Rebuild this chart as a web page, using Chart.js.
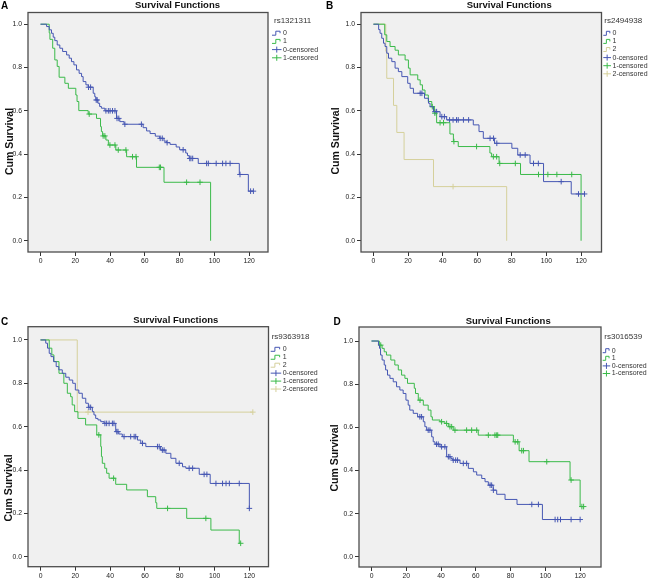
<!DOCTYPE html>
<html>
<head>
<meta charset="utf-8">
<title>Survival Functions</title>
<script src="https://cdn.jsdelivr.net/npm/chart.js@4.4.1/dist/chart.umd.min.js"></script>
<style>
  html, body { margin: 0; padding: 0; background: #fff; }
  #wrap { position: relative; width: 650px; height: 581px; overflow: hidden; }
  #wrap canvas { position: absolute; }
</style>
</head>
<body>
<div id="wrap">
  <canvas id="chartA" width="325" height="290" style="left:0;top:0"></canvas>
  <canvas id="chartB" width="325" height="290" style="left:325px;top:0"></canvas>
  <canvas id="chartC" width="325" height="291" style="left:0;top:290px"></canvas>
  <canvas id="chartD" width="325" height="291" style="left:325px;top:290px"></canvas>
</div>
<script>
// Tick labels shared by all four panels
const xTicks = [0, 20, 40, 60, 80, 100, 120];
const yTicks = [0.0, 0.2, 0.4, 0.6, 0.8, 1.0];

// Kaplan-Meier steps: survival drops to surv[i] at time[i]
// Panel A - rs1321311
const aTime0 = [0, 3.5, 5, 6.3, 7.3, 8.2, 9.6, 11.1, 12.7, 15, 16.5, 17.8, 19.2, 20.7, 22.2, 23.6, 24.5, 26.1, 27.4, 30.3, 31.2, 31.8, 33, 34, 35, 37, 43.7, 45.6, 48, 59, 61, 63, 66, 68.5, 71, 72.5, 74.5, 78, 80, 83.5, 84.5, 85.5, 90.7, 114.3, 119.5, 122.4];
const aSurv0 = [1, 0.989, 0.974, 0.958, 0.94, 0.924, 0.904, 0.889, 0.874, 0.858, 0.843, 0.827, 0.812, 0.789, 0.773, 0.758, 0.735, 0.72, 0.709, 0.681, 0.665, 0.65, 0.635, 0.62, 0.612, 0.6, 0.565, 0.55, 0.538, 0.522, 0.507, 0.495, 0.483, 0.473, 0.46, 0.453, 0.445, 0.433, 0.42, 0.405, 0.393, 0.38, 0.357, 0.306, 0.229, 0.229];
const aCens0 = [27.6, 28.8, 32, 32.6, 37.6, 39, 40, 41.4, 42.8, 44, 45, 48.5, 58, 68.8, 70, 72.8, 82, 85.8, 86.5, 87.5, 95.5, 96.5, 101, 104.7, 106.6, 109, 114.7, 120.8, 122.4];
const aTime1 = [0, 5, 5.4, 7, 8.2, 9.6, 10.7, 14, 16, 20.3, 21, 22, 27.4, 32.2, 34.5, 35, 35.7, 37.6, 39, 43.3, 49.5, 55.2, 71, 97.8];
const aSurv1 = [1, 0.96, 0.93, 0.889, 0.835, 0.805, 0.755, 0.727, 0.704, 0.673, 0.643, 0.601, 0.585, 0.565, 0.527, 0.504, 0.484, 0.465, 0.442, 0.419, 0.388, 0.339, 0.27, 0];
const aCens1 = [28, 36, 37, 39.9, 42.8, 44.7, 49.1, 52.9, 54.9, 68.3, 69, 84, 91.7];

// Panel B - rs2494938
const bTime0 = [0, 3, 3.8, 4.8, 5.8, 6.7, 7.7, 8.7, 10.6, 12.5, 14.4, 16.4, 19.8, 21.2, 23.1, 29.5, 31.8, 32.7, 34.7, 38.5, 42.3, 57.7, 61, 63.5, 70, 80, 83.4, 90.5, 98.3, 114.3, 122];
const bSurv0 = [1, 0.975, 0.958, 0.935, 0.912, 0.897, 0.866, 0.843, 0.827, 0.797, 0.781, 0.758, 0.727, 0.704, 0.681, 0.658, 0.635, 0.619, 0.596, 0.573, 0.558, 0.535, 0.504, 0.473, 0.45, 0.427, 0.396, 0.357, 0.273, 0.216, 0.216];
const bCens0 = [27, 28, 35.5, 36.5, 39.5, 41, 44, 46, 48, 49, 52, 55, 67.4, 69.4, 71.3, 84.8, 87.7, 92.5, 95.3, 108.5, 118.5, 122];
const bTime1 = [0, 6.5, 7.7, 9.6, 12.5, 14.4, 18.3, 20.2, 21.2, 25.6, 27, 28.3, 29.8, 31.7, 33.7, 35.2, 36.5, 44.2, 46.2, 49, 67.3, 68.3, 72.6, 85, 120];
const bSurv1 = [1, 0.951, 0.92, 0.897, 0.88, 0.858, 0.835, 0.797, 0.766, 0.743, 0.72, 0.696, 0.673, 0.643, 0.619, 0.589, 0.545, 0.493, 0.458, 0.435, 0.405, 0.388, 0.357, 0.306, 0];
const bCens1 = [34, 35.5, 38.5, 40.5, 46.5, 59.6, 69.3, 71.2, 73, 82, 95.4, 100.8, 106, 114.6];
const bTime2 = [0, 7.1, 7.7, 11.6, 13.5, 17.7, 34.7, 77];
const bSurv2 = [1, 0.875, 0.75, 0.625, 0.5, 0.375, 0.25, 0];
const bCens2 = [46];

// Panel C - rs9363918
const cTime0 = [0, 3, 4, 5, 6, 7.5, 9, 10.5, 12.5, 14.5, 16.5, 18.5, 20, 22, 24, 26, 27.5, 29.8, 30.7, 31.7, 33, 34.6, 36.5, 43.2, 45, 47, 55.7, 57.6, 60.5, 69, 72, 74.9, 77.8, 81.6, 83.5, 91.2, 97.5, 120];
const cSurv0 = [1, 0.985, 0.962, 0.938, 0.923, 0.9, 0.877, 0.862, 0.846, 0.828, 0.815, 0.8, 0.769, 0.754, 0.731, 0.708, 0.689, 0.669, 0.654, 0.638, 0.631, 0.623, 0.615, 0.577, 0.566, 0.554, 0.538, 0.523, 0.508, 0.492, 0.477, 0.454, 0.431, 0.415, 0.408, 0.38, 0.338, 0.223];
const cCens0 = [27.8, 28.8, 37, 38, 39.4, 41.3, 42.2, 43.8, 44.5, 48, 51.8, 53.8, 54.7, 58.6, 67.2, 68.2, 70, 71, 79.7, 85.4, 87.4, 94, 95.6, 100.8, 104.6, 106.6, 108.5, 114.2, 120];
const cTime1 = [0, 5, 6.5, 7.7, 10.6, 13.4, 15.4, 17.3, 18.2, 19.6, 21.5, 25.9, 32.3, 34.6, 35, 35.5, 36.9, 38, 39.4, 43.2, 49.5, 61.4, 66.2, 66.8, 84, 97.9, 114.2, 115];
const cSurv1 = [1, 0.962, 0.931, 0.9, 0.846, 0.8, 0.754, 0.738, 0.7, 0.669, 0.638, 0.608, 0.562, 0.508, 0.462, 0.431, 0.408, 0.385, 0.362, 0.334, 0.308, 0.277, 0.249, 0.223, 0.177, 0.123, 0.062, 0.062];
const cCens1 = [33.5, 42, 73, 95, 115];
const cTime2 = [0, 21.1, 122];
const cSurv2 = [1, 0.667, 0.667];
const cCens2 = [27.3, 122];

// Panel D - rs3016539
const dTime0 = [0, 4, 4.6, 5.2, 6.1, 7.3, 8.1, 9.2, 10.6, 12.5, 14.4, 16.3, 18.2, 19.8, 21.1, 22, 24, 26.5, 29.8, 30.7, 31.7, 34.6, 35.5, 36.5, 39.4, 43.2, 45.7, 46.5, 50.9, 55.7, 58.6, 60.5, 63.4, 65.3, 67.2, 70, 72, 76.8, 83.7, 98.3, 120];
const dSurv0 = [1, 0.981, 0.966, 0.935, 0.912, 0.889, 0.866, 0.842, 0.827, 0.811, 0.788, 0.773, 0.757, 0.726, 0.703, 0.68, 0.665, 0.649, 0.626, 0.603, 0.587, 0.556, 0.533, 0.522, 0.51, 0.464, 0.456, 0.448, 0.433, 0.41, 0.394, 0.379, 0.363, 0.348, 0.332, 0.309, 0.29, 0.266, 0.243, 0.173, 0.173];
const dCens0 = [27.8, 28.8, 32.6, 33.6, 37.4, 38.4, 40.3, 42.2, 44.2, 45.1, 47, 48.4, 49.5, 52.8, 54.7, 68.2, 69.1, 70.1, 92.2, 96, 105.6, 107.1, 108.7, 114.8, 120];
const dTime1 = [0, 4.5, 6.1, 7.3, 8.6, 11.1, 13.4, 15.4, 17.3, 19.2, 20.7, 24.6, 25.3, 26.9, 29.8, 32.6, 34.2, 35, 39.4, 42.2, 44.2, 47, 61.4, 81.6, 84.9, 90.6, 114.2, 120, 122];
const dSurv1 = [1, 0.981, 0.966, 0.95, 0.935, 0.912, 0.889, 0.866, 0.842, 0.827, 0.804, 0.781, 0.757, 0.726, 0.703, 0.68, 0.649, 0.634, 0.626, 0.618, 0.603, 0.587, 0.564, 0.533, 0.492, 0.441, 0.356, 0.233, 0.233];
const dCens1 = [5.3, 27.9, 40.3, 43.2, 45.1, 46.1, 48, 54.7, 57.6, 60.5, 67.2, 71, 72, 72.6, 82.6, 84.1, 86.4, 87.4, 100.8, 114.8, 121, 122];

const FONT = '"Liberation Sans", Arial, sans-serif';
const groupColors = ['#4657b3', '#3bba4a', '#d5d09b'];
const Y_AXIS_W = 26;
const X_AXIS_H = 14;

// value of the step curve at time t (used to place the censor marks on the curve)
function survAt(times, surv, t) {
    let s = surv[0];
    for (let i = 0; i < times.length; i++) {
        if (times[i] <= t) s = surv[i];
    }
    return s;
}

// Draws the frame, titles, panel letter and the SPSS style legend
function panelDeco(p) {
    return {
        id: 'panelDeco' + p.letter,
        beforeDraw(chart) {
            const a = chart.chartArea;
            const ctx = chart.ctx;
            ctx.save();
            ctx.fillStyle = '#f0f0f0';
            ctx.fillRect(a.left, a.top, a.right - a.left, a.bottom - a.top);
            ctx.restore();
        },
        afterDraw(chart) {
            const a = chart.chartArea;
            const ctx = chart.ctx;
            const ox = p.box.left, oy = p.box.top;
            ctx.save();
            ctx.strokeStyle = '#4d4d4d';
            ctx.lineWidth = 1.3;
            ctx.strokeRect(a.left, a.top, a.right - a.left, a.bottom - a.top);

            ctx.fillStyle = '#000';
            ctx.font = 'bold 10px ' + FONT;
            ctx.textAlign = 'left';
            ctx.textBaseline = 'alphabetic';
            ctx.fillText(p.letter, p.letterPos[0] - ox, p.letterPos[1] - oy);

            ctx.font = 'bold 9.5px ' + FONT;
            ctx.textAlign = 'center';
            ctx.textBaseline = 'middle';
            ctx.fillStyle = '#111';
            ctx.fillText('Survival Functions', p.titlePos[0] - ox, p.titlePos[1] - oy);

            ctx.save();
            ctx.translate(p.yTitlePos[0] - ox, p.yTitlePos[1] - oy);
            ctx.rotate(-Math.PI / 2);
            ctx.font = 'bold 10.5px ' + FONT;
            ctx.fillText('Cum Survival', 0, 0);
            ctx.restore();

            // legend
            const lg = p.legend;
            ctx.textAlign = 'left';
            ctx.fillStyle = '#333';
            ctx.font = '8px ' + FONT;
            ctx.fillText(p.legendTitle, lg.titleX - ox, lg.titleY - oy);
            ctx.font = '7px ' + FONT;
            const n = p.groups.length;
            const iconW = lg.textX - lg.iconX - 1.5;
            for (let k = 0; k < n * 2; k++) {
                const g = p.groups[k % n];
                const color = groupColors[k % n];
                const y = lg.y0 + k * lg.dy - oy;
                const x0 = lg.iconX - ox;
                ctx.strokeStyle = color;
                ctx.lineWidth = 1;
                ctx.beginPath();
                if (k < n) {
                    ctx.moveTo(x0, y + 2);
                    ctx.lineTo(x0 + iconW * 0.4, y + 2);
                    ctx.lineTo(x0 + iconW * 0.4, y - 2);
                    ctx.lineTo(x0 + iconW * 0.85, y - 2);
                    ctx.lineTo(x0 + iconW * 0.85, y);
                } else {
                    ctx.moveTo(x0, y);
                    ctx.lineTo(x0 + iconW, y);
                    ctx.moveTo(x0 + iconW / 2, y - 3);
                    ctx.lineTo(x0 + iconW / 2, y + 3);
                }
                ctx.stroke();
                ctx.fillStyle = '#333';
                ctx.fillText(k < n ? g.label : g.label + '-censored', lg.textX - ox, y);
            }
            ctx.restore();
        }
    };
}

function makeChart(canvasId, p) {
    const datasets = [];
    p.groups.forEach((g, k) => {
        datasets.push({
            label: g.label,
            data: g.time.map((t, i) => ({ x: t, y: g.surv[i] })),
            stepped: true,
            borderColor: groupColors[k],
            borderWidth: 1,
            pointRadius: 0,
            fill: false
        });
    });
    p.groups.forEach((g, k) => {
        datasets.push({
            label: g.label + '-censored',
            data: g.cens.map(t => ({ x: t, y: survAt(g.time, g.surv, t) })),
            showLine: false,
            pointStyle: 'cross',
            pointRadius: 2.8,
            borderColor: groupColors[k],
            borderWidth: 1
        });
    });

    const b = p.box, ar = p.area;
    const tickFont = { family: FONT, size: 6.8 };
    const gridOpts = { drawOnChartArea: false, drawTicks: true, tickLength: 4, color: '#333', lineWidth: 1 };

    return new Chart(document.getElementById(canvasId), {
        type: 'line',
        data: { datasets: datasets },
        options: {
            responsive: false,
            animation: false,
            events: [],
            layout: {
                padding: {
                    left: ar.l - b.left - Y_AXIS_W,
                    top: ar.t - b.top,
                    right: b.left + b.w - ar.r,
                    bottom: b.top + b.h - ar.b - X_AXIS_H
                }
            },
            plugins: { legend: { display: false }, title: { display: false }, tooltip: { enabled: false } },
            scales: {
                x: {
                    type: 'linear',
                    min: -7.2,
                    max: p.xMax,
                    afterBuildTicks: s => { s.ticks = xTicks.map(v => ({ value: v })); },
                    afterFit: s => { s.height = X_AXIS_H; },
                    grid: gridOpts,
                    border: { display: false },
                    ticks: { font: tickFont, color: '#222', padding: 1.5, maxRotation: 0, autoSkip: false }
                },
                y: {
                    type: 'linear',
                    min: p.yMin,
                    max: p.yMax,
                    afterBuildTicks: s => { s.ticks = yTicks.map(v => ({ value: v })); },
                    afterFit: s => { s.width = Y_AXIS_W; },
                    grid: gridOpts,
                    border: { display: false },
                    ticks: { font: tickFont, color: '#222', padding: 2, callback: v => Number(v).toFixed(1) }
                }
            }
        },
        plugins: [panelDeco(p)]
    });
}

// Panel A
makeChart('chartA', {
    letter: 'A', legendTitle: 'rs1321311',
    box: { left: 0, top: 0, w: 325, h: 290 },
    area: { l: 28, t: 12.5, r: 268, b: 252 },
    xMax: 130.8, yMin: -0.052, yMax: 1.054,
    letterPos: [1, 8.5], titlePos: [177.5, 5], yTitlePos: [10, 141.5],
    legend: { titleX: 274, titleY: 20.7, iconX: 272, textX: 283, y0: 33.2, dy: 8.2 },
    groups: [
        { label: '0', time: aTime0, surv: aSurv0, cens: aCens0 },
        { label: '1', time: aTime1, surv: aSurv1, cens: aCens1 }
    ]
});

// Panel B
makeChart('chartB', {
    letter: 'B', legendTitle: 'rs2494938',
    box: { left: 325, top: 0, w: 325, h: 290 },
    area: { l: 361, t: 12.5, r: 601.5, b: 252 },
    xMax: 131.8, yMin: -0.052, yMax: 1.054,
    letterPos: [326, 8.5], titlePos: [509.2, 5], yTitlePos: [336, 141],
    legend: { titleX: 604.3, titleY: 20.7, iconX: 603.3, textX: 612.5, y0: 33.3, dy: 8.1 },
    groups: [
        { label: '0', time: bTime0, surv: bSurv0, cens: bCens0 },
        { label: '1', time: bTime1, surv: bSurv1, cens: bCens1 },
        { label: '2', time: bTime2, surv: bSurv2, cens: bCens2 }
    ]
});

// Panel C
makeChart('chartC', {
    letter: 'C', legendTitle: 'rs9363918',
    box: { left: 0, top: 290, w: 325, h: 291 },
    area: { l: 28, t: 326.7, r: 268.5, b: 566.7 },
    xMax: 131, yMin: -0.046, yMax: 1.061,
    letterPos: [1, 325.3], titlePos: [175.8, 320], yTitlePos: [9.5, 488],
    legend: { titleX: 271.7, titleY: 336.7, iconX: 270.7, textX: 282.7, y0: 349.3, dy: 7.95 },
    groups: [
        { label: '0', time: cTime0, surv: cSurv0, cens: cCens0 },
        { label: '1', time: cTime1, surv: cSurv1, cens: cCens1 },
        { label: '2', time: cTime2, surv: cSurv2, cens: cCens2 }
    ]
});

// Panel D
makeChart('chartD', {
    letter: 'D', legendTitle: 'rs3016539',
    box: { left: 325, top: 290, w: 325, h: 291 },
    area: { l: 359, t: 327, r: 601, b: 567 },
    xMax: 132, yMin: -0.047, yMax: 1.065,
    letterPos: [333.5, 325.3], titlePos: [508.2, 321.3], yTitlePos: [335.5, 458],
    legend: { titleX: 604.3, titleY: 336.7, iconX: 602.7, textX: 611.7, y0: 350.7, dy: 7.6 },
    groups: [
        { label: '0', time: dTime0, surv: dSurv0, cens: dCens0 },
        { label: '1', time: dTime1, surv: dSurv1, cens: dCens1 }
    ]
});
</script>
</body>
</html>
